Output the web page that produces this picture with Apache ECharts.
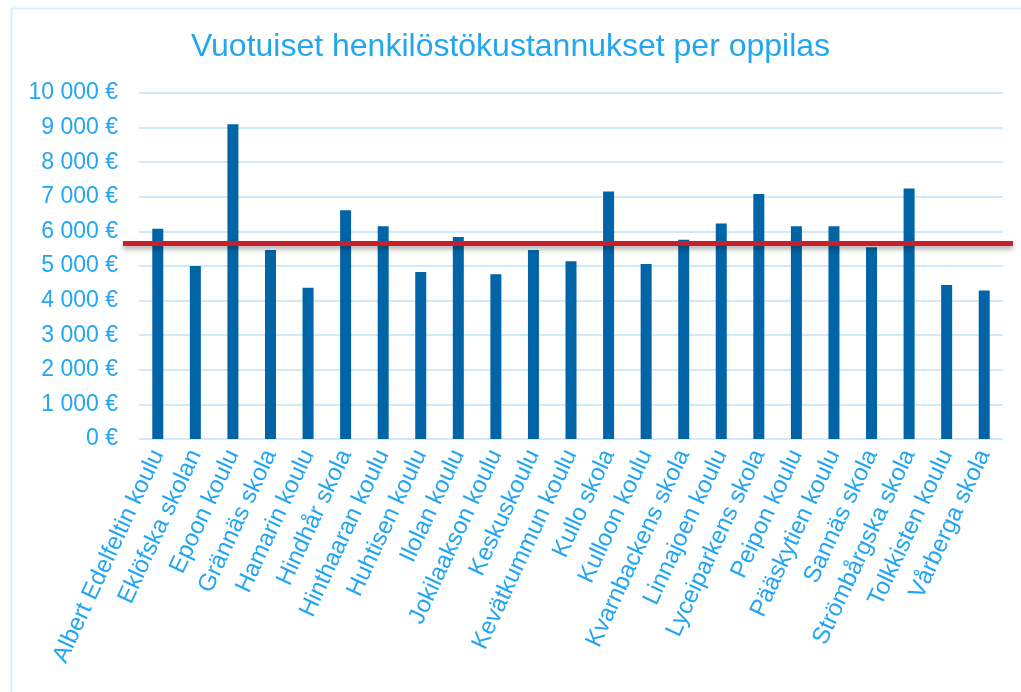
<!DOCTYPE html>
<html>
<head>
<meta charset="utf-8">
<script src="https://cdn.jsdelivr.net/npm/echarts@6/dist/echarts.min.js"></script>
<style>html,body{margin:0;padding:0;background:#fff;}#c{width:1021px;height:692px;}</style>
</head>
<body>
<div id="c"></div>
<script>
const titleText = 'Vuotuiset henkilöstökustannukset per oppilas';
const schools = ['Albert Edelfeltin koulu','Eklöfska skolan','Epoon koulu','Grännäs skola','Hamarin koulu','Hindhår skola','Hinthaaran koulu','Huhtisen koulu','Ilolan koulu','Jokilaakson koulu','Keskuskoulu','Kevätkummun koulu','Kullo skola','Kulloon koulu','Kvarnbackens skola','Linnajoen koulu','Lyceiparkens skola','Peipon koulu','Pääskytien koulu','Sannäs skola','Strömbårgska skola','Tolkkisten koulu','Vårberga skola'];
const costs = [6080,5000,9100,5460,4370,6610,6150,4830,5840,4760,5460,5140,7150,5060,5760,6230,7080,6150,6150,5540,7240,4450,4290];
const averageCost = 5650;
const yMin = 0, yMax = 10000, yStep = 1000;

const blue = '#22A6F2';
const font = 'Liberation Sans, Arial, sans-serif';
const chart = echarts.init(document.getElementById('c'));
const fmt = v => (v >= 1000 ? Math.floor(v/1000) + ' ' + String(v%1000).padStart(3,'0') : String(v)) + ' €';

chart.setOption({
  animation: false,
  backgroundColor: '#fff',
  graphic: [{type:'rect', left: 9, top: 6, shape:{width: 1100, height: 800}, style:{fill:'none', stroke:'#D8EEFC', lineWidth: 2}, silent: true}],
  title: {text: titleText, left: 'center', top: 26, textStyle:{color: blue, fontFamily: font, fontSize: 32, fontWeight: 'normal'}},
  grid: [
    {left: 139, right: 18, top: 93, bottom: 253, containLabel: false},
    {left: 123, right: 8, top: 93, bottom: 253, containLabel: false}
  ],
  xAxis: [
    {type: 'category', gridIndex: 0, data: schools,
     axisLine: {show: false}, axisTick: {show: false},
     axisLabel: {rotate: 65, margin: 12, color: blue, fontFamily: font, fontSize: 24, interval: 0}},
    {type: 'value', gridIndex: 1, min: 0, max: 1, show: false}
  ],
  yAxis: [
    {type: 'value', gridIndex: 0, min: yMin, max: yMax, interval: yStep,
     axisLine: {show: false}, axisTick: {show: false},
     splitLine: {lineStyle: {color: '#CFEBFB', width: 2}},
     axisLabel: {formatter: fmt, margin: 21, color: blue, fontFamily: font, fontSize: 23}},
    {type: 'value', gridIndex: 1, min: yMin, max: yMax, show: false}
  ],
  series: [
    {type: 'bar', xAxisIndex: 0, yAxisIndex: 0, data: costs, barWidth: 11,
     itemStyle: {color: '#0064A6'}},
    {type: 'line', xAxisIndex: 1, yAxisIndex: 1, data: [[0, averageCost],[1, averageCost]],
     symbol: 'none', z: 5,
     lineStyle: {color: '#C8202A', width: 5, shadowColor: 'rgba(0,0,0,0.35)', shadowBlur: 5, shadowOffsetY: 3}}
  ]
});
</script>
</body>
</html>
